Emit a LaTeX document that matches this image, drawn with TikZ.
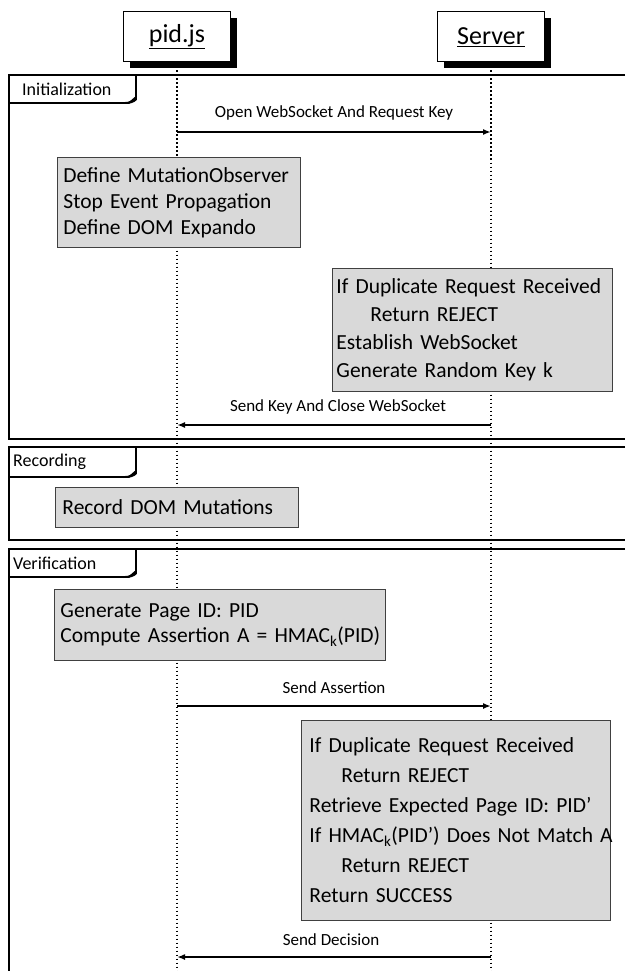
\documentclass[tikz,border=0pt]{standalone}
\usepackage{fontspec}
\setmainfont{Carlito}
\usetikzlibrary{arrows.meta}
\begin{document}
\begin{tikzpicture}[x=1pt,y=-1pt,
  actor/.style={draw=black, line width=1pt, fill=white, minimum width=107pt, minimum height=50pt, inner sep=0pt, font=\fontsize{26}{30}\selectfont},
  actorshadow/.style={fill=black},
  frameline/.style={line width=1.8pt, black},
  tabbox/.style={draw=black, line width=1.6pt, fill=white, line join=miter},
  tablabel/.style={anchor=west, inner sep=0pt, font=\fontsize{18}{22}\selectfont},
  gbox/.style={draw=black!75, line width=0.9pt, fill=black!15, anchor=north west, align=left, inner ysep=0pt, font=\fontsize{21.5}{26}\selectfont},
  msg/.style={line width=1.8pt, -{Latex[length=8pt,width=6pt]}},
  msglabel/.style={inner sep=0pt, font=\fontsize{17}{20}\selectfont},
  lifeline/.style={line width=1.8pt, dash pattern=on 1.8pt off 2.2pt},
]
\useasboundingbox (0,0) rectangle (625,971);
\clip (0,0) rectangle (625,971);

% participants
\fill[actorshadow] (129.5,18) rectangle (236.5,68);
\fill[actorshadow] (443.5,18) rectangle (550.5,68);
\node[actor] (pid) at (177,37) {\underline{pid.js}};
\node[actor] (srv) at (491,37) {\underline{Server}};

% lifelines
\coordinate (pidend) at (177,971);
\coordinate (srvend) at (491,971);
\draw[lifeline] (pid.south) -- (pidend);
\draw[lifeline] (srv.south) -- (srvend);

% ---------- Initialization frame
\draw[frameline] (625,75) -- (9,75) -- (9,439) -- (625,439);
\draw[tabbox] (9,75) -- (136,75) -- (136,97) -- (129,103) -- (9,103) -- cycle;
\fill (123,102.2) .. controls (130,102.2) and (134,100) .. (136.8,96) -- (136.8,100) .. controls (134,103) and (130,104) .. (123,104) -- cycle;
\node[tablabel] (tinit) at (22,89) {Initialization};

\coordinate (p1) at (177,132);
\coordinate (s1) at (491,132);
\draw[msg] (p1) -- (s1);
\node[msglabel] (l1) at (334,113) {Open WebSocket And Request Key};

\node[gbox, inner xsep=6pt, text width=231pt, minimum height=90pt] (boxa) at (57,157)
  {\mbox{Define MutationObserver}\\\mbox{Stop Event Propagation}\\\mbox{Define DOM Expando}};

\node[gbox, inner xsep=4pt, text width=272pt, minimum height=123pt, font=\fontsize{21.5}{28}\selectfont] (boxb) at (332,268)
  {\mbox{If Duplicate Request Received}\\\mbox{\hspace*{34pt}Return REJECT}\\\mbox{Establish WebSocket}\\\mbox{Generate Random Key k}};

\coordinate (s2) at (491,425);
\coordinate (p2) at (177,425);
\draw[msg] (s2) -- (p2);
\node[msglabel] (l2) at (338,407) {Send Key And Close WebSocket};

% ---------- Recording frame
\draw[frameline] (625,447) -- (9,447) -- (9,540) -- (625,540);
\draw[tabbox] (9,447) -- (136,447) -- (136,471) -- (129,477) -- (9,477) -- cycle;
\fill (123,476.2) .. controls (130,476.2) and (134,474) .. (136.8,470) -- (136.8,474) .. controls (134,477) and (130,478) .. (123,478) -- cycle;
\node[tablabel] (trec) at (13,462) {Recording};

\node[gbox, inner xsep=7pt, text width=229pt, minimum height=40pt] (boxc) at (55,487)
  {\mbox{Record DOM Mutations}};

% ---------- Verification frame
\draw[frameline] (625,549) -- (9,549) -- (9,971);
\draw[tabbox] (9,549) -- (136,549) -- (136,571) -- (129,577) -- (9,577) -- cycle;
\fill (123,576.2) .. controls (130,576.2) and (134,574) .. (136.8,570) -- (136.8,574) .. controls (134,577) and (130,578) .. (123,578) -- cycle;
\node[tablabel] (tver) at (13,563) {Verification};

\node[gbox, inner xsep=6pt, text width=319pt, minimum height=71pt, font=\fontsize{21.5}{25}\selectfont] (boxd) at (54,589)
  {\mbox{Generate Page ID: PID}\\\mbox{Compute Assertion A = HMAC\textsubscript{k}(PID)}};

\coordinate (p3) at (177,706);
\coordinate (s3) at (491,706);
\draw[msg] (p3) -- (s3);
\node[msglabel] (l3) at (334,688) {Send Assertion};

\node[gbox, inner xsep=8pt, text width=293pt, minimum height=200pt, font=\fontsize{21.5}{30}\selectfont] (boxe) at (301,720)
  {\mbox{If Duplicate Request Received}\\\mbox{\hspace*{32pt}Return REJECT}\\\mbox{Retrieve Expected Page ID: PID’}\\\mbox{If HMAC\textsubscript{k}(PID’) Does Not Match A}\\\mbox{\hspace*{32pt}Return REJECT}\\\mbox{Return SUCCESS}};

\coordinate (s4) at (491,957);
\coordinate (p4) at (177,957);
\draw[msg] (s4) -- (p4);
\node[msglabel] (l4) at (331,940) {Send Decision};
\end{tikzpicture}
\end{document}
